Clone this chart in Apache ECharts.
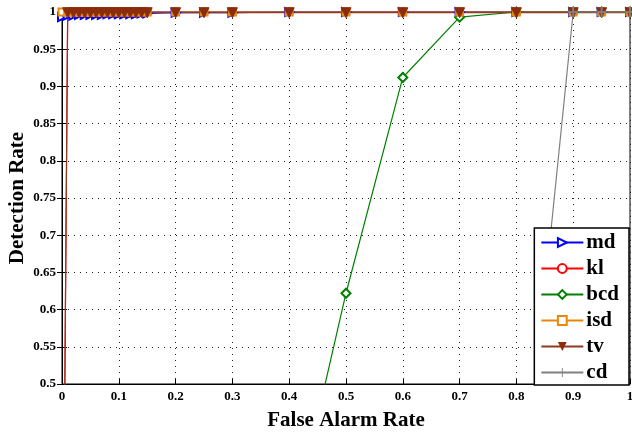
<!DOCTYPE html>
<html>
<head>
<meta charset="utf-8">
<script src="https://cdn.jsdelivr.net/npm/echarts@6/dist/echarts.min.js"></script>
<style>html,body{margin:0;padding:0;background:#fff}#c{width:632px;height:432px}</style>
</head>
<body>
<div id="c"></div>
<script>
// shared false-alarm-rate grid
var fa = [0,0.01,0.02,0.03,0.04,0.05,0.06,0.07,0.08,0.09,0.10,0.11,0.12,0.13,0.14,0.15,0.2,0.25,0.3,0.4,0.5,0.6,0.7,0.8,0.9,0.95,1];
var mdY  = [0.993,0.995,0.995,0.996,0.996,0.996,0.996,0.996,0.997,0.997,0.997,0.997,0.997,0.997,0.998,0.998,0.999,0.999,0.999,1,1,1,1,1,1,1,1];
var klY  = [0,1,1,1,1,1,1,1,1,1,1,1,1,1,1,1,1,1,1,1,1,1,1,1,1,1,1];
var isdY = [1,1,1,1,1,1,1,1,1,1,1,1,1,1,1,1,1,1,1,1,1,1,1,1,1,1,1];
var tvY  = [0,0.999,0.999,0.999,0.999,0.999,0.999,0.999,0.999,0.999,0.999,0.999,0.999,0.999,0.999,0.999,0.999,0.999,0.999,0.999,0.999,0.999,0.999,0.999,0.999,0.999,0.999];
var bcdX = [0.4,0.5,0.6,0.7,0.8,0.9,0.95,1];
var bcdY = [0.29,0.622,0.912,0.993,1,1,1,1];
var cdX  = [0.8,0.9,0.95,1];
var cdY  = [0.25,1,1,1];
var xTicks = [0,0.1,0.2,0.3,0.4,0.5,0.6,0.7,0.8,0.9,1];
var yTicks = [0.5,0.55,0.6,0.65,0.7,0.75,0.8,0.85,0.9,0.95,1];

function pairs(xs, ys){ return xs.map(function(x,i){ return [x, ys[i]]; }); }

var serif = 'Liberation Serif';
var plusPath = 'path://M9,0 L11,0 L11,9 L20,9 L20,11 L11,11 L11,20 L9,20 L9,11 L0,11 L0,9 L9,9Z';

function mk(name, data, color, symbol, size, rot, fill){
  var s = {
    name: name, type: 'line', data: data, clip: true,
    symbol: symbol, symbolSize: size, symbolRotate: rot || 0,
    lineStyle: {color: color, width: 1.2},
    itemStyle: {color: color},
    showAllSymbol: true, animation: false
  };
  if (fill) { s.itemStyle.color = fill; s.itemStyle.borderColor = fill; }
  return s;
}

var chart = echarts.init(document.getElementById('c'), null, {renderer: 'canvas'});
var axisLbl = {fontFamily: serif, fontWeight: 'bold', fontSize: 13, color: '#000'};
var split = {show: true, lineStyle: {color: '#222', type: [1, 5], width: 1}};
chart.setOption({
  animation: false,
  backgroundColor: '#fff',
  grid: {left: 62, right: 2, top: 12, bottom: 48, show: true, borderColor: '#000', borderWidth: 1,
         backgroundColor: 'transparent', containLabel: false, outerBoundsMode: 'none'},
  xAxis: [{
    type: 'value', min: 0, max: 1, interval: 0.1,
    name: 'False Alarm Rate', nameLocation: 'middle', nameGap: 26, nameMoveOverlap: false,
    nameTextStyle: {fontFamily: serif, fontWeight: 'bold', fontSize: 21, color: '#000'},
    axisLine: {show: true, lineStyle: {color: '#000', width: 1}},
    axisTick: {show: true, inside: true, length: 5, lineStyle: {color: '#000'}},
    axisLabel: Object.assign({margin: 6, formatter: function(v){ return String(+v.toFixed(2)); }}, axisLbl),
    splitLine: split
  },{
    type: 'value', min: 0, max: 1, interval: 0.1, position: 'top',
    axisLine: {show: true, lineStyle: {color: '#000'}},
    axisTick: {show: true, inside: true, length: 5, lineStyle: {color: '#000'}},
    axisLabel: {show: false}, splitLine: {show: false}
  }],
  yAxis: [{
    type: 'value', min: 0.5, max: 1, interval: 0.05,
    name: 'Detection Rate', nameLocation: 'middle', nameGap: 34, nameRotate: 90, nameMoveOverlap: false,
    nameTextStyle: {fontFamily: serif, fontWeight: 'bold', fontSize: 21, color: '#000'},
    axisLine: {show: true, lineStyle: {color: '#000', width: 1}},
    axisTick: {show: true, inside: true, length: 5, lineStyle: {color: '#000'}},
    axisLabel: Object.assign({margin: 6, formatter: function(v){ return String(+v.toFixed(2)); }}, axisLbl),
    splitLine: split
  },{
    type: 'value', min: 0.5, max: 1, interval: 0.05, position: 'right',
    axisLine: {show: true, lineStyle: {color: '#000'}},
    axisTick: {show: true, inside: true, length: 5, lineStyle: {color: '#000'}},
    axisLabel: {show: false}, splitLine: {show: false}
  }],
  legend: {
    orient: 'vertical', right: 3, bottom: 47,
    backgroundColor: '#fff', borderColor: '#000', borderWidth: 1.5,
    padding: [4, 10, 2, 6], itemGap: 5, itemWidth: 42, itemHeight: 11,
    textStyle: {fontFamily: serif, fontWeight: 'bold', fontSize: 21, color: '#000', padding: [0,0,0,-2]},
    data: ['md','kl','bcd','isd','tv','cd']
  },
  series: [
    mk('md', pairs(fa, mdY), '#0000ff', 'emptyTriangle', 8, -90),
    mk('kl', pairs(fa, klY), '#ff0000', 'emptyCircle', 7, 0),
    mk('bcd', pairs(bcdX, bcdY), '#008000', 'emptyDiamond', 9, 0),
    mk('isd', pairs(fa, isdY), '#e8880a', 'emptyRect', 7, 0),
    mk('tv', pairs(fa, tvY), '#8c3a22', 'triangle', 10, 180, '#8b2c0c'),
    mk('cd', pairs(cdX, cdY), '#808080', plusPath, 10, 0, '#808080')
  ]
});
</script>
</body>
</html>
